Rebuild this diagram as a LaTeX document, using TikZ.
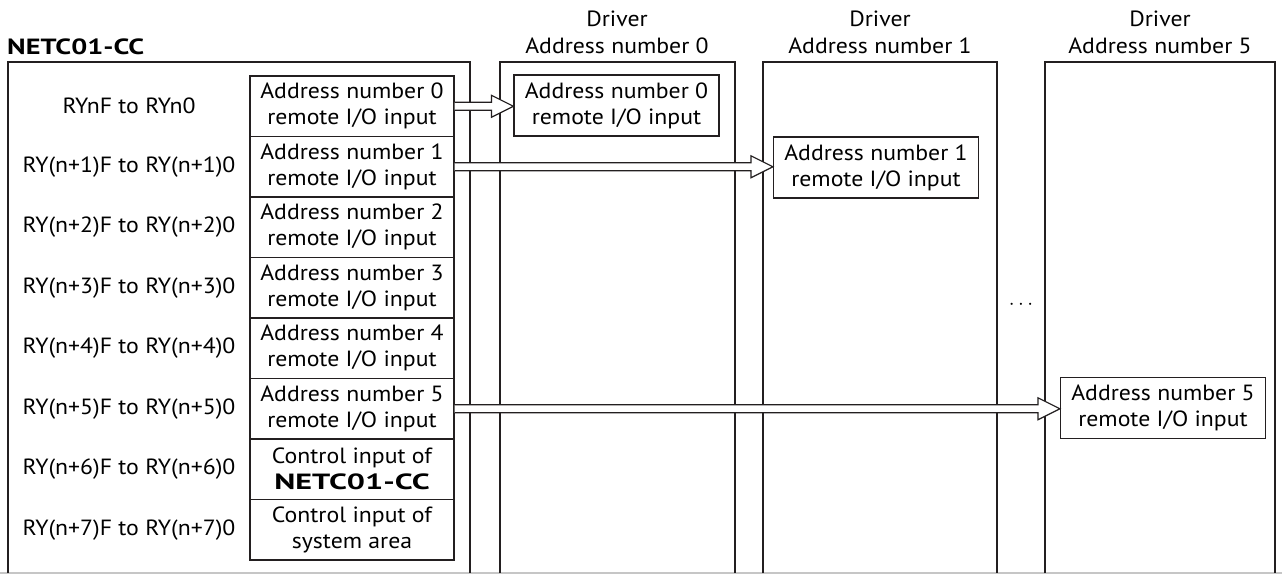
\documentclass[tikz,border=0pt]{standalone}
\usepackage{fontspec}
\setmainfont{PT Sans}[FakeStretch=1.08]
\usetikzlibrary{calc}
\definecolor{ink}{HTML}{231F20}
\tikzset{
  frame/.style={draw=ink,line width=2.2pt},
  cell/.style={draw=ink,line width=1.2pt,minimum width=204pt,minimum height=60.5pt,inner sep=0pt,align=center,font=\fontsize{22}{26}\selectfont},
  rowlbl/.style={align=center,font=\fontsize{22}{26}\selectfont,inner sep=0pt},
  target/.style={draw=ink,line width=1.2pt,minimum width=205pt,minimum height=61pt,inner sep=0pt,align=center,font=\fontsize{22}{26}\selectfont},
  hdr/.style={align=center,font=\fontsize{22}{27}\selectfont,inner sep=0pt},
}
\newcommand{\bigarrow}[2]{%
  \fill[white] let \p1=(#1), \p2=(#2) in
    (\x1,\y1-4pt) -- (\x2-22pt,\y1-4pt) -- (\x2-22pt,\y1-11pt) -- (\x2,\y1) -- (\x2-22pt,\y1+11pt) -- (\x2-22pt,\y1+4pt) -- (\x1,\y1+4pt) -- cycle;
  \draw[ink,line width=1.2pt,line join=miter] let \p1=(#1), \p2=(#2) in
    (\x1,\y1-4pt) -- (\x2-22pt,\y1-4pt) -- (\x2-22pt,\y1-11pt) -- (\x2,\y1) -- (\x2-22pt,\y1+11pt) -- (\x2-22pt,\y1+4pt) -- (\x1,\y1+4pt);
}
\begin{document}
\begin{tikzpicture}[x=1pt,y=-1pt]
\useasboundingbox (0,0) rectangle (1282,574);
\fill[white] (0,0) rectangle (1282,574);
% bottom gray edge
\draw[gray!45,line width=1.5pt] (0,573) -- (1282,573);
% boxes
\draw[frame] (8,573) -- (8,62) -- (470,62) -- (470,573);
\draw[frame] (500,573) -- (500,62) -- (735,62) -- (735,573);
\draw[frame] (763,573) -- (763,62) -- (997,62) -- (997,573);
\draw[frame] (1045,573) -- (1045,62) -- (1275,62) -- (1275,573);
% headings
\node[anchor=west,font=\fontsize{22}{24}\selectfont\bfseries,inner sep=0pt] (title) at (7,47) {\scalebox{1.19}[1]{NETC01-CC}};
\node[hdr] (h0) at (617,32) {Driver\\Address number 0};
\node[hdr] (h1) at (880,32) {Driver\\Address number 1};
\node[hdr] (h5) at (1160,32) {Driver\\Address number 5};
% table
\node[cell] (r1) at (352,106.25) {Address number 0\\remote I/O input};
\node[cell] (r2) at (352,166.75) {Address number 1\\remote I/O input};
\node[cell] (r3) at (352,227.25) {Address number 2\\remote I/O input};
\node[cell] (r4) at (352,287.75) {Address number 3\\remote I/O input};
\node[cell] (r5) at (352,348.25) {Address number 4\\remote I/O input};
\node[cell] (r6) at (352,408.75) {Address number 5\\remote I/O input};
\node[cell] (r7) at (352,469.25) {Control input of\\\textbf{\scalebox{1.35}[1]{NETC01-CC}}};
\node[cell] (r8) at (352,529.75) {Control input of\\system area};
% row labels
\node[rowlbl] (l1) at (129,106.25) {RYnF to RYn0};
\node[rowlbl] (l2) at (129,166.75) {RY(n+1)F to RY(n+1)0};
\node[rowlbl] (l3) at (129,227.25) {RY(n+2)F to RY(n+2)0};
\node[rowlbl] (l4) at (129,287.75) {RY(n+3)F to RY(n+3)0};
\node[rowlbl] (l5) at (129,348.25) {RY(n+4)F to RY(n+4)0};
\node[rowlbl] (l6) at (129,408.75) {RY(n+5)F to RY(n+5)0};
\node[rowlbl] (l7) at (129,469.25) {RY(n+6)F to RY(n+6)0};
\node[rowlbl] (l8) at (129,529.75) {RY(n+7)F to RY(n+7)0};
% targets
\node[target] (t0) at (616.5,105.5) {Address number 0\\remote I/O input};
\node[target] (t1) at (876,167.5) {Address number 1\\remote I/O input};
\node[target] (t5) at (1163,408) {Address number 5\\remote I/O input};
% dots
\node[font=\fontsize{22}{24}\selectfont,inner sep=0pt] (dots) at (1021,305) {$\cdots$};
% arrows
\bigarrow{r1.east}{t0.west}
\bigarrow{r2.east}{t1.west}
\bigarrow{r6.east}{t5.west}
\end{tikzpicture}
\end{document}
